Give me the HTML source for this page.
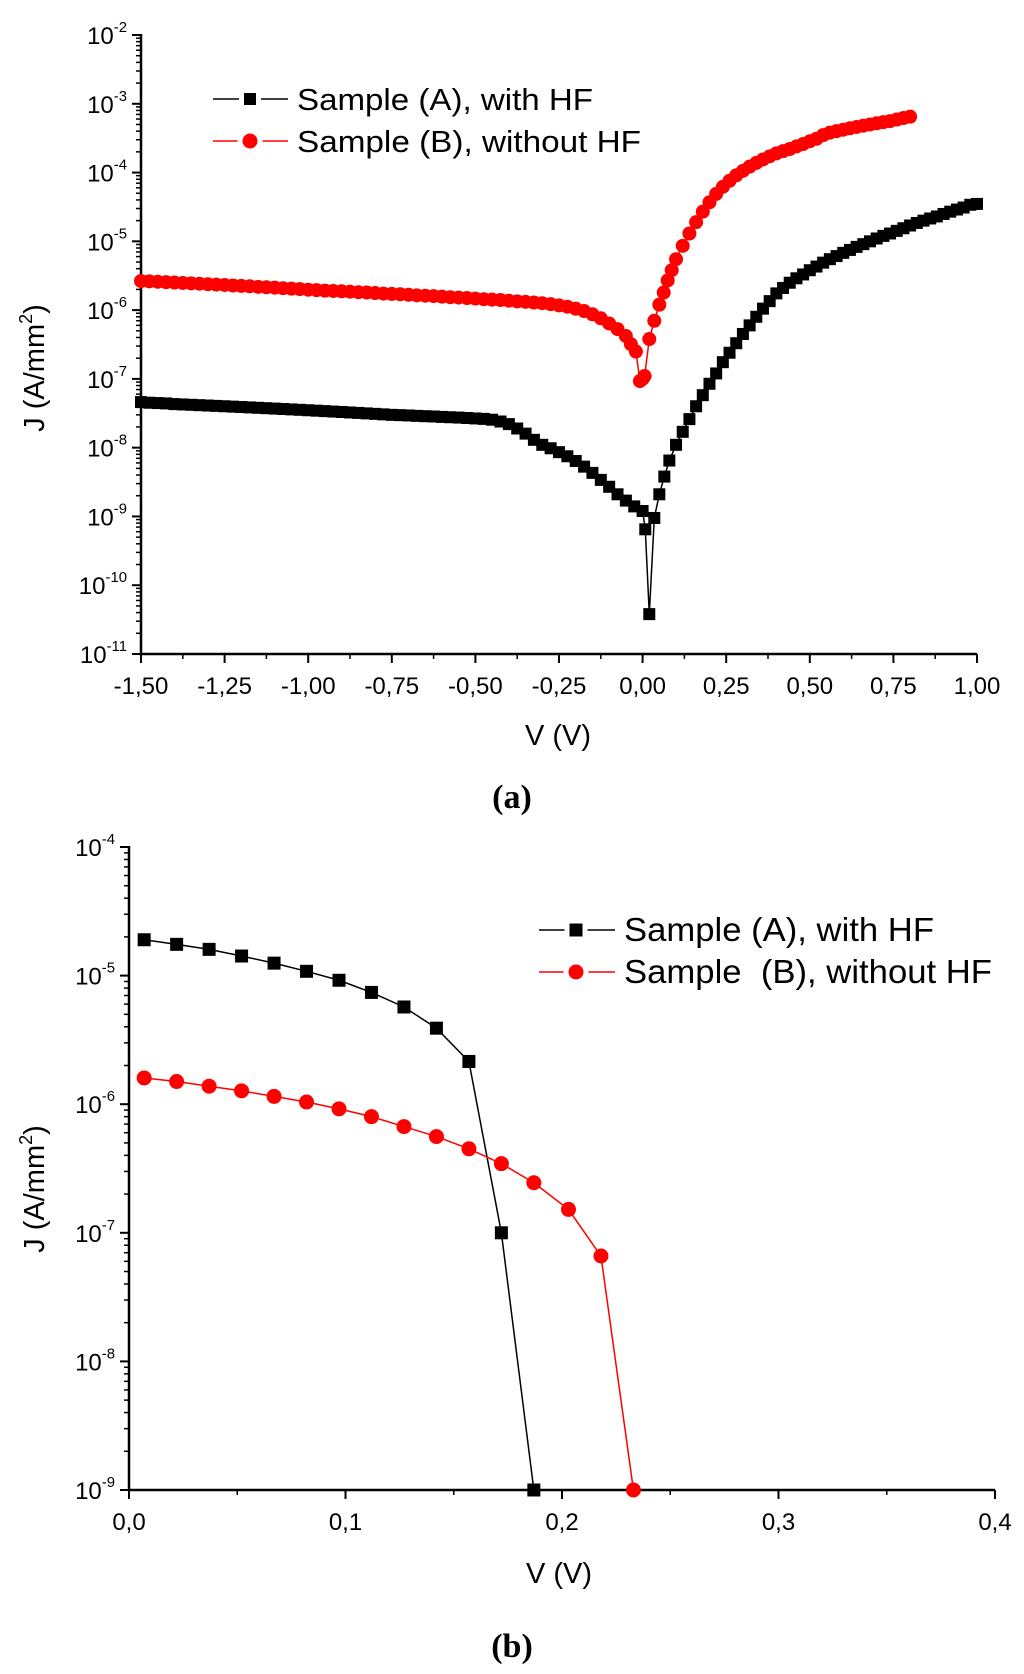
<!DOCTYPE html>
<html><head><meta charset="utf-8"><style>
html,body{margin:0;padding:0;background:#fff}
svg{display:block}
text{font-family:"Liberation Sans",sans-serif;fill:#000}
</style></head><body>
<svg id="fig" width="1024" height="1674" viewBox="0 0 1024 1674" xmlns="http://www.w3.org/2000/svg">
<rect width="1024" height="1674" fill="#fff"/>
<g id="chartA"></g>
<g id="chartB"></g>
<text x="512" y="808" text-anchor="middle" style="font-family:'Liberation Serif',serif;font-size:34px;font-weight:bold">(a)</text>
<text x="512" y="1657" text-anchor="middle" style="font-family:'Liberation Serif',serif;font-size:34px;font-weight:bold">(b)</text>
</svg>
<script>
// ---------- Chart (a) data ----------
const aVoltA = [-1.5,-1.475,-1.45,-1.425,-1.4,-1.375,-1.35,-1.325,-1.3,-1.275,-1.25,-1.225,-1.2,-1.175,-1.15,-1.125,-1.1,-1.075,-1.05,-1.025,-1.0,-0.975,-0.95,-0.925,-0.9,-0.875,-0.85,-0.825,-0.8,-0.775,-0.75,-0.725,-0.7,-0.675,-0.65,-0.625,-0.6,-0.575,-0.55,-0.525,-0.5,-0.475,-0.45,-0.425,-0.4,-0.375,-0.35,-0.325,-0.3,-0.275,-0.25,-0.225,-0.2,-0.175,-0.15,-0.125,-0.1,-0.075,-0.05,-0.025,
0.0,0.008,0.02,0.035,0.05,0.065,0.08,
0.10,0.12,0.14,0.16,0.18,0.20,0.22,0.24,0.26,0.28,0.30,0.32,0.34,0.36,0.38,0.40,0.42,0.44,0.46,0.48,0.50,0.52,0.54,0.56,0.58,0.60,0.62,0.64,0.66,0.68,0.70,0.72,0.74,0.76,0.78,0.80,0.82,0.84,0.86,0.88,0.90,0.92,0.94,0.96,0.98,1.00];
const aCurrA = [4.6e-8,4.5e-8,4.45e-8,4.4e-8,4.3e-8,4.25e-8,4.2e-8,4.15e-8,4.1e-8,4.05e-8,4.0e-8,3.95e-8,3.9e-8,3.85e-8,3.8e-8,3.75e-8,3.7e-8,3.65e-8,3.6e-8,3.55e-8,3.5e-8,3.45e-8,3.4e-8,3.35e-8,3.3e-8,3.25e-8,3.2e-8,3.15e-8,3.1e-8,3.05e-8,3.0e-8,2.97e-8,2.94e-8,2.9e-8,2.87e-8,2.84e-8,2.8e-8,2.77e-8,2.74e-8,2.7e-8,2.66e-8,2.62e-8,2.55e-8,2.4e-8,2.2e-8,1.9e-8,1.6e-8,1.3e-8,1.1e-8,9.8e-9,8.6e-9,7.5e-9,6.4e-9,5.3e-9,4.3e-9,3.4e-9,2.7e-9,2.1e-9,1.7e-9,1.4e-9,
1.2e-9,6.5e-10,3.8e-11,9.5e-10,2.1e-9,3.8e-9,6.5e-9,
1.1e-8,1.7e-8,2.6e-8,4.0e-8,5.8e-8,8.5e-8,1.2e-7,1.75e-7,2.4e-7,3.3e-7,4.5e-7,6.0e-7,8.0e-7,1.05e-6,1.35e-6,1.75e-6,2.1e-6,2.5e-6,2.9e-6,3.3e-6,3.8e-6,4.3e-6,4.9e-6,5.5e-6,6.1e-6,6.8e-6,7.5e-6,8.3e-6,9.1e-6,1.0e-5,1.1e-5,1.2e-5,1.3e-5,1.42e-5,1.55e-5,1.7e-5,1.85e-5,2.0e-5,2.15e-5,2.3e-5,2.5e-5,2.7e-5,2.9e-5,3.1e-5,3.4e-5,3.5e-5];
const aVoltB = [-1.5,-1.475,-1.45,-1.425,-1.4,-1.375,-1.35,-1.325,-1.3,-1.275,-1.25,-1.225,-1.2,-1.175,-1.15,-1.125,-1.1,-1.075,-1.05,-1.025,-1.0,-0.975,-0.95,-0.925,-0.9,-0.875,-0.85,-0.825,-0.8,-0.775,-0.75,-0.725,-0.7,-0.675,-0.65,-0.625,-0.6,-0.575,-0.55,-0.525,-0.5,-0.475,-0.45,-0.425,-0.4,-0.375,-0.35,-0.325,-0.3,-0.275,-0.25,-0.225,-0.2,-0.175,-0.15,-0.125,-0.1,-0.075,-0.05,
-0.035,-0.02,-0.008,0.0,0.006,0.02,0.035,0.05,0.063,0.075,0.087,
0.10,0.12,0.14,0.16,0.18,0.20,0.22,0.24,0.26,0.28,0.30,0.32,0.34,0.36,0.38,0.40,0.42,0.44,0.46,0.48,0.50,0.52,0.54,0.56,0.58,0.60,0.62,0.64,0.66,0.68,0.70,0.72,0.74,0.76,0.78,0.80];
const aCurrB = [2.65e-6,2.62e-6,2.58e-6,2.55e-6,2.52e-6,2.48e-6,2.45e-6,2.42e-6,2.38e-6,2.35e-6,2.32e-6,2.28e-6,2.25e-6,2.22e-6,2.18e-6,2.15e-6,2.12e-6,2.08e-6,2.05e-6,2.02e-6,1.98e-6,1.95e-6,1.92e-6,1.9e-6,1.88e-6,1.85e-6,1.82e-6,1.8e-6,1.77e-6,1.74e-6,1.72e-6,1.7e-6,1.67e-6,1.64e-6,1.62e-6,1.6e-6,1.57e-6,1.54e-6,1.52e-6,1.5e-6,1.47e-6,1.44e-6,1.42e-6,1.4e-6,1.37e-6,1.34e-6,1.32e-6,1.29e-6,1.26e-6,1.22e-6,1.17e-6,1.12e-6,1.05e-6,9.7e-7,8.7e-7,7.6e-7,6.4e-7,5.3e-7,4.2e-7,
3.2e-7,2.5e-7,9.3e-8,1.0e-7,1.1e-7,3.8e-7,7.0e-7,1.2e-6,1.8e-6,2.7e-6,3.8e-6,
5.5e-6,8.6e-6,1.3e-5,1.9e-5,2.7e-5,3.7e-5,4.9e-5,6.2e-5,7.6e-5,9.1e-5,1.06e-4,1.22e-4,1.38e-4,1.55e-4,1.72e-4,1.9e-4,2.05e-4,2.2e-4,2.4e-4,2.6e-4,2.85e-4,3.1e-4,3.5e-4,3.8e-4,4.0e-4,4.2e-4,4.4e-4,4.6e-4,4.8e-4,5.0e-4,5.2e-4,5.4e-4,5.6e-4,5.9e-4,6.2e-4,6.5e-4];
const aXTicks = [-1.5,-1.25,-1.0,-0.75,-0.5,-0.25,0.0,0.25,0.5,0.75,1.0];
const aXTickLabels = ["-1,50","-1,25","-1,00","-0,75","-0,50","-0,25","0,00","0,25","0,50","0,75","1,00"];
const aYExps = [-2,-3,-4,-5,-6,-7,-8,-9,-10,-11];

// ---------- Chart (b) data ----------
const bVoltA = [0.007,0.022,0.037,0.052,0.067,0.082,0.097,0.112,0.127,0.142,0.157,0.172,0.187];
const bCurrA = [1.9e-5,1.75e-5,1.6e-5,1.42e-5,1.25e-5,1.08e-5,9.2e-6,7.4e-6,5.7e-6,3.9e-6,2.15e-6,1.0e-7,1.0e-9];
const bVoltB = [0.007,0.022,0.037,0.052,0.067,0.082,0.097,0.112,0.127,0.142,0.157,0.172,0.187,0.203,0.218,0.233];
const bCurrB = [1.6e-6,1.5e-6,1.38e-6,1.27e-6,1.15e-6,1.04e-6,9.2e-7,8.0e-7,6.7e-7,5.6e-7,4.5e-7,3.45e-7,2.45e-7,1.52e-7,6.6e-8,1.0e-9];
const bXTicks = [0,0.1,0.2,0.3,0.4];
const bXTickLabels = ["0,0","0,1","0,2","0,3","0,4"];
const bYExps = [-4,-5,-6,-7,-8,-9];

const NS = "http://www.w3.org/2000/svg";
function mk(parent, tag, attrs){const e=document.createElementNS(NS,tag);for(const k in attrs)e.setAttribute(k,attrs[k]);parent.appendChild(e);return e;}

function drawChart(g, cfg){
  const xs = v => cfg.x0 + (v - cfg.xmin)/(cfg.xmax-cfg.xmin)*(cfg.x1-cfg.x0);
  const ys = j => cfg.y0 + (cfg.ymaxExp - Math.log10(j))/(cfg.ymaxExp-cfg.yminExp)*(cfg.y1-cfg.y0);
  const ax = mk(g,'path',{d:`M${cfg.x0},${cfg.y0-1}V${cfg.y1}H${cfg.x1}`,fill:'none',stroke:'#000','stroke-width':2.5});
   
  for(let e=cfg.yminExp;e<=cfg.ymaxExp;e++){
    const y=ys(Math.pow(10,e));
    const t=mk(g,'line',{x1:cfg.x0-9,x2:cfg.x0,y1:y,y2:y,stroke:'#000','stroke-width':2});
     
    if(e<cfg.ymaxExp){for(let m=2;m<=9;m++){const ym=ys(m*Math.pow(10,e));
      const mt=mk(g,'line',{x1:cfg.x0-5,x2:cfg.x0,y1:ym,y2:ym,stroke:'#000','stroke-width':1.5});
       }}
  }
  cfg.yExps.forEach(e=>{
    const y=ys(Math.pow(10,e));
    const tx=mk(g,'text',{x:cfg.x0-14,y:y+9,'text-anchor':'end','font-size':cfg.tfs});
     
    const a=mk(tx,'tspan',{}); a.textContent='10';
    const b=mk(tx,'tspan',{dy:-12,'font-size':cfg.tfs*0.62}); b.textContent=String(e);
  });
  cfg.xTicks.forEach((v,i)=>{
    const x=xs(v);
    const t=mk(g,'line',{x1:x,x2:x,y1:cfg.y1,y2:cfg.y1+9,stroke:'#000','stroke-width':2});
     
    if(i<cfg.xTicks.length-1){const xm=xs((v+cfg.xTicks[i+1])/2);
      const mt=mk(g,'line',{x1:xm,x2:xm,y1:cfg.y1,y2:cfg.y1+5,stroke:'#000','stroke-width':1.5});
       }
    const tx=mk(g,'text',{x:x,y:cfg.y1+40,'text-anchor':'middle','font-size':cfg.tfs});
     
    tx.textContent=cfg.xLabels[i];
  });
  const xt=mk(g,'text',{x:cfg.xtX,y:cfg.xtY,'text-anchor':'middle','font-size':29});
   
  xt.textContent='V (V)';
  const yt=mk(g,'text',{x:0,y:0,'text-anchor':'middle','font-size':29,transform:`translate(${cfg.ytX},${cfg.ytY}) rotate(-90)`});
   
  const y1=mk(yt,'tspan',{}); y1.textContent='J (A/mm';
  const y2=mk(yt,'tspan',{dy:-12,'font-size':18}); y2.textContent='2';
  const y3=mk(yt,'tspan',{dy:12}); y3.textContent=')';
  cfg.series.forEach(s=>{
    const sg=mk(g,'g',{});
     
    let d='';
    s.v.forEach((v,i)=>{d+=(i?'L':'M')+xs(v).toFixed(2)+','+ys(s.j[i]).toFixed(2);});
    const p=mk(sg,'path',{d:d,fill:'none',stroke:s.color,'stroke-width':1.5});
     
    s.v.forEach((v,i)=>{
      const x=xs(v), y=ys(s.j[i]); let m;
      if(s.shape==='sq') m=mk(sg,'rect',{x:x-s.size/2,y:y-s.size/2,width:s.size,height:s.size,fill:s.color});
      else m=mk(sg,'circle',{cx:x,cy:y,r:s.size/2,fill:s.color});
       
    });
  });
  cfg.legend.forEach((L,i)=>{
    const lg=mk(g,'g',{});
     
    const y=L.y;
    mk(lg,'line',{x1:L.lx0,x2:L.mx-L.size/2-5,y1:y,y2:y,stroke:L.color,'stroke-width':1.5});
    mk(lg,'line',{x1:L.mx+L.size/2+5,x2:L.lx1,y1:y,y2:y,stroke:L.color,'stroke-width':1.5});
    if(L.shape==='sq') mk(lg,'rect',{x:L.mx-L.size/2,y:y-L.size/2,width:L.size,height:L.size,fill:L.color});
    else mk(lg,'circle',{cx:L.mx,cy:y,r:L.size/2,fill:L.color});
    const t=mk(lg,'text',{x:L.tx,y:y+11,'font-size':L.fs,textLength:L.len,lengthAdjust:'spacingAndGlyphs'});
    t.style.whiteSpace='pre';
    t.textContent=L.text;
  });
}

drawChart(document.getElementById('chartA'),{
  x0:141,x1:977,xmin:-1.5,xmax:1.0,y0:35,y1:654,ymaxExp:-2,yminExp:-11,
  yExps:aYExps,xTicks:aXTicks,xLabels:aXTickLabels,tfs:24,
  xtX:558,xtY:745,ytX:44,ytY:368,
  series:[
    {name:'series-a-with-hf',v:aVoltA,j:aCurrA,color:'#000',shape:'sq',size:12},
    {name:'series-b-without-hf',v:aVoltB,j:aCurrB,color:'#ff0000',shape:'ci',size:14}
  ],
  legend:[
    {y:99,lx0:213,lx1:288,mx:250,tx:297,color:'#000',shape:'sq',size:12,fs:31,len:296,text:'Sample (A), with HF'},
    {y:141,lx0:213,lx1:288,mx:250,tx:297,color:'#ff0000',shape:'ci',size:15,fs:31,len:344,text:'Sample (B), without HF'}
  ]
});
drawChart(document.getElementById('chartB'),{
  x0:129,x1:995,xmin:0,xmax:0.4,y0:847,y1:1490,ymaxExp:-4,yminExp:-9,
  yExps:bYExps,xTicks:bXTicks,xLabels:bXTickLabels,tfs:24,
  xtX:559,xtY:1583,ytX:44,ytY:1189,
  series:[
    {name:'series-a-with-hf',v:bVoltA,j:bCurrA,color:'#000',shape:'sq',size:13},
    {name:'series-b-without-hf',v:bVoltB,j:bCurrB,color:'#ff0000',shape:'ci',size:15}
  ],
  legend:[
    {y:930,lx0:539,lx1:615,mx:576,tx:624,color:'#000',shape:'sq',size:13,fs:33,len:310,text:'Sample (A), with HF'},
    {y:972,lx0:539,lx1:615,mx:576,tx:624,color:'#ff0000',shape:'ci',size:15,fs:33,len:368,text:'Sample  (B), without HF'}
  ]
});
</script>
</body></html>
